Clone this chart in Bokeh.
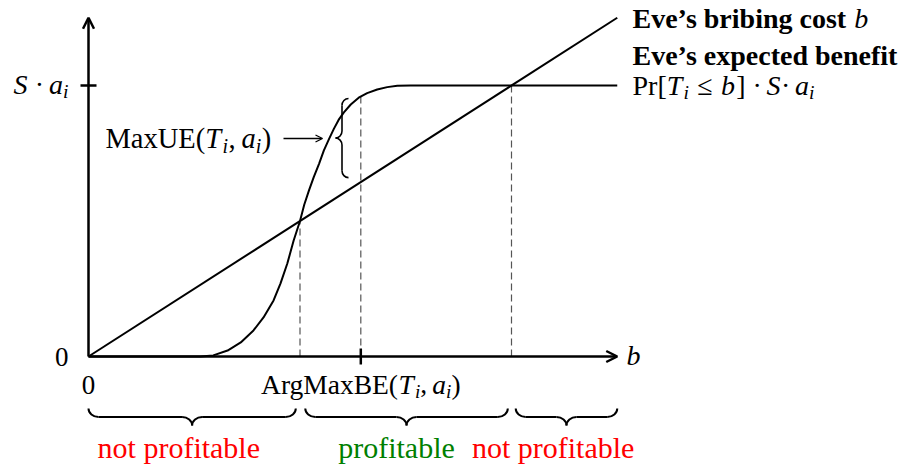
from bokeh.plotting import figure
from bokeh.models import Range1d, Arrow, OpenHead
from bokeh.core.properties import value
from bokeh.embed import file_html
from bokeh.resources import INLINE

# ---------------- data ----------------
# Eve's expected benefit Pr[T_i <= b] * S * a_i  (in units of S*a_i)
benefit_b = [0.0, 2.12, 2.36, 2.63, 2.88, 3.12, 3.31, 3.50, 3.63, 3.76, 3.88, 4.0,
             4.08, 4.17, 4.26, 4.36, 4.45, 4.55, 4.64, 4.73, 4.83, 4.96, 5.11, 5.27,
             5.46, 5.65, 5.84, 6.09, 10.0]
benefit_v = [0.0, 0.0, 0.004, 0.022, 0.052, 0.096, 0.144, 0.207, 0.269, 0.343, 0.428, 0.5,
             0.56, 0.613, 0.662, 0.711, 0.76, 0.803, 0.84, 0.873, 0.901, 0.93, 0.955, 0.972,
             0.985, 0.994, 0.999, 1.0, 1.0]
# Eve's bribing cost b
cost_b = [0.0, 10.0]
cost_v = [0.0, 1.25]

# axes extents
x_axis_end = 10.0
y_axis_end = 1.25

# special points
cross_b = [4.0, 8.0]          # cost == benefit
cross_v = [0.5, 1.0]
argmax_b = 5.15               # ArgMaxBE
argmax_benefit = 0.958
maxue_top = 0.952
maxue_bottom = 0.66
y_tick_v = 1.0                # S * a_i

# profitability regions
region_start = [0.0, 4.10, 8.08]
region_end = [3.92, 7.93, 10.0]
region_label = ["not profitable", "profitable", "not profitable"]
region_color = ["#ff0000", "#008000", "#ff0000"]

# ---------------- layout helpers ----------------
W, H = 908, 470
OX, OY = 88.0, 356.0          # pixel of the origin
PXB, PXV = 52.875, 271.0      # pixels per data unit
BASELINE_FIX = 0.33           # renderer draws "alphabetic" text this many em lower


def bx(X):
    return (X - OX) / PXB


def vy(Y):
    return (OY - Y) / PXV


def Xp(b):
    return OX + b * PXB


def Yp(v):
    return OY - v * PXV


p = figure(width=W, height=H, output_backend="svg", toolbar_location=None,
           x_range=Range1d(bx(0), bx(W)), y_range=Range1d(vy(H), vy(0)),
           x_axis_type=None, y_axis_type=None, min_border=0)
p.grid.visible = False
p.outline_line_color = None
p.background_fill_color = "white"
p.border_fill_color = "white"

SERIF = "Liberation Serif"
BLACK = "#000000"

# dashed helper lines
p.segment(x0=[cross_b[0], argmax_b, cross_b[1]], y0=[0, 0, 0],
          x1=[cross_b[0], argmax_b, cross_b[1]], y1=[cross_v[0], argmax_benefit, cross_v[1]],
          line_color="#555555", line_width=1.2, line_dash="7 4")

# curves
p.line(benefit_b, benefit_v, line_color=BLACK, line_width=2)
p.line(cost_b, cost_v, line_color=BLACK, line_width=2)

# axes with arrows
p.add_layout(Arrow(end=OpenHead(size=11, line_width=2.5, line_color=BLACK),
                   x_start=0, y_start=0, x_end=x_axis_end, y_end=0,
                   line_width=2.5, line_color=BLACK))
p.add_layout(Arrow(end=OpenHead(size=11, line_width=2.5, line_color=BLACK),
                   x_start=0, y_start=0, x_end=0, y_end=y_axis_end,
                   line_width=2.5, line_color=BLACK))
# ticks
p.segment(x0=[argmax_b, -8 / PXB], y0=[-8 / PXV, y_tick_v],
          x1=[argmax_b, 8 / PXB], y1=[8 / PXV, y_tick_v],
          line_color=BLACK, line_width=2.5)

# MaxUE arrow
p.add_layout(Arrow(end=OpenHead(size=7, line_width=1.3, line_color=BLACK),
                   x_start=bx(283), y_start=vy(138), x_end=bx(322), y_end=vy(138),
                   line_width=1.3, line_color=BLACK))


# braces
def brace(start, end, base, depth, curl, orient, lw):
    """start/end along the brace (px), base = px of the ends, depth = px towards tip."""
    h = depth / 2.0
    m = (start + end) / 2.0
    k = 0.552
    segs = [
        ((start, 0), (start, k * h), (start + (1 - k) * curl, h), (start + curl, h)),
        ((m - curl, h), (m - (1 - k) * curl, h), (m, h + (1 - k) * h), (m, 2 * h)),
        ((m, 2 * h), (m, h + (1 - k) * h), (m + (1 - k) * curl, h), (m + curl, h)),
        ((end - curl, h), (end - (1 - k) * curl, h), (end, k * h), (end, 0)),
    ]
    lines = [((start + curl, h), (m - curl, h)), ((m + curl, h), (end - curl, h))]

    def mp(pt):
        u, w = pt
        if orient == "down":
            return bx(u), vy(base + w)
        return bx(base - w), vy(u)     # "left"

    for s in segs:
        a, c0, c1, b = [mp(q) for q in s]
        p.bezier(x0=[a[0]], y0=[a[1]], x1=[b[0]], y1=[b[1]],
                 cx0=[c0[0]], cy0=[c0[1]], cx1=[c1[0]], cy1=[c1[1]],
                 line_color=BLACK, line_width=lw)
    for a, b in lines:
        a, b = mp(a), mp(b)
        p.segment(x0=[a[0]], y0=[a[1]], x1=[b[0]], y1=[b[1]], line_color=BLACK, line_width=lw)


for s, e in zip(region_start, region_end):
    brace(Xp(s), Xp(e), 408, 17, 10, "down", 2)
brace(Yp(maxue_top), Yp(maxue_bottom), 348, 13, 7, "left", 1.6)

# ---------------- texts ----------------
W_REG = {' ': 250, '(': 333, ')': 333, '[': 333, ']': 333, ',': 250, '·': 250, '≤': 549,
         'A': 722, 'B': 667, 'E': 611, 'M': 889, 'U': 722, 'P': 556, 'r': 333, 'g': 500,
         'a': 444, 'x': 500, '0': 500, 'i': 278}
W_IT = {'T': 556, 'S': 500, 'a': 500, 'i': 278, 'b': 500}
W_BOLD = {'E': 667, 'v': 500, 'e': 444, '’': 333, 's': 389, ' ': 250, 'b': 556, 'r': 444,
          'i': 278, 'n': 556, 'g': 500, 'c': 444, 'o': 500, 't': 333, 'x': 500, 'p': 556,
          'd': 556, 'f': 333}
TABLES = {"normal": W_REG, "italic": W_IT, "bold": W_BOLD}


def rich(X, Y, pieces, size, align="left", color=BLACK):
    widths = []
    for t, st, sc, dy, k in pieces:
        tbl = TABLES[st]
        widths.append(sum(tbl.get(c, 500) for c in t) / 1000 * size * sc + k * size)
    total = sum(widths)
    x = X - total / 2 if align == "center" else (X - total if align == "right" else X)
    for (t, st, sc, dy, k), w in zip(pieces, widths):
        fs = size * sc
        p.text(x=[bx(x)], y=[vy(Y + dy * size - BASELINE_FIX * fs)], text=[t],
               text_font=value(SERIF), text_font_style=st, text_font_size=f"{fs:.1f}px",
               text_baseline="alphabetic", text_align="left", text_color=color)
        x += w


SUB = 0.7


def sub(t, k=0.0):
    return (t, "italic", SUB, 0.17, k)


# y tick labels
rich(68, Yp(y_tick_v) + 8, [("S", "italic", 1, 0, 0.26), ("·", "normal", 1, 0, 0.26),
                            ("a", "italic", 1, 0, 0), sub("i")], 28, align="right")
rich(68, OY + 9, [("0", "normal", 1, 0, 0)], 27, align="right")
# x tick labels
rich(Xp(0), OY + 37, [("0", "normal", 1, 0, 0)], 27, align="center")
rich(Xp(argmax_b), OY + 37, [("ArgMaxBE(", "normal", 1, 0, 0), ("T", "italic", 1, 0, 0.04), sub("i"),
                             (",", "normal", 1, 0, 0.19), ("a", "italic", 1, 0, 0), sub("i"),
                             (")", "normal", 1, 0, 0)], 27.5, align="center")
rich(626, OY + 8, [("b", "italic", 1, 0, 0)], 28)

# MaxUE label
rich(105, 147, [("MaxUE(", "normal", 1, 0, 0), ("T", "italic", 1, 0, 0.05), sub("i", 0.02),
                (",", "normal", 1, 0, 0.2), ("a", "italic", 1, 0, 0), sub("i", 0.02),
                (")", "normal", 1, 0, 0)], 28.5)

# right-hand legend texts
rich(632, 27, [("Eve’s bribing cost ", "bold", 1, 0, 0), ("b", "italic", 1, 0, 0)], 28)
rich(632, 64, [("Eve’s expected benefit", "bold", 1, 0, 0)], 28)
rich(632, 94, [("Pr[", "normal", 1, 0, 0), ("T", "italic", 1, 0, 0.04), ("i", "italic", SUB, 0.17, 0.3),
               ("≤", "normal", 1, 0, 0.3), ("b", "italic", 1, 0, 0.04), ("]", "normal", 1, 0, 0.25),
               ("·", "normal", 1, 0, 0.25), ("S", "italic", 1, 0, 0.02), ("·", "normal", 1, 0, 0.25),
               ("a", "italic", 1, 0, 0), sub("i")], 28)

# region labels
for s, e, lab, col in zip(region_start, region_end, region_label, region_color):
    rich(Xp((s + e) / 2), 457, [(lab, "normal", 1, 0, 0)], 30, align="center", color=col)

open("out.html", "w").write(file_html(p, INLINE))
